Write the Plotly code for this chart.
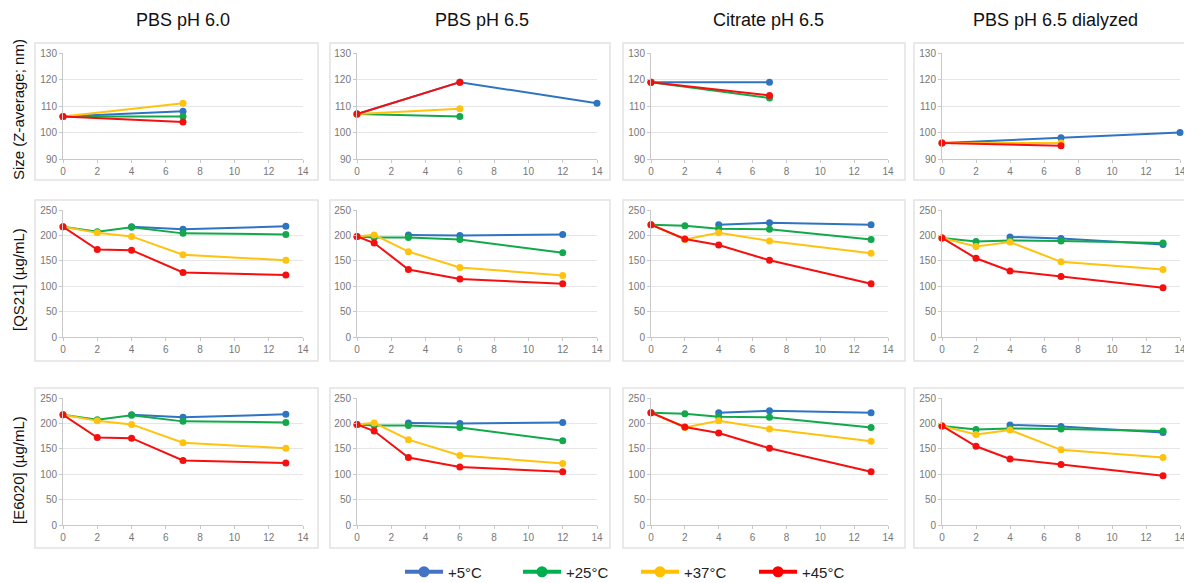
import plotly.graph_objects as go

# ---------------- data ----------------
temps = ["+5°C", "+25°C", "+37°C", "+45°C"]
colors = ["#2f74c0", "#13a84c", "#ffc20e", "#f50f0f"]
legend_colors = ["#4472c4", "#00b050", "#ffc000", "#ff0000"]
conditions = ["PBS pH 6.0", "PBS pH 6.5", "Citrate pH 6.5", "PBS pH 6.5 dialyzed"]
row_titles = ["Size (Z-average; nm)", "[QS21] (µg/mL)", "[E6020] (µg/mL)"]

# Row 1: size (nm)
size_pbs60_days = [0, 7]
size_pbs60 = {"+5°C": [106, 108], "+25°C": [106, 106], "+37°C": [106, 111], "+45°C": [106, 104]}
size_pbs65_days = [0, 6, 14]
size_pbs65 = {"+5°C": [107, 119, 111], "+25°C": [107, 106, None], "+37°C": [107, 109, None], "+45°C": [107, 119, None]}
size_cit65_days = [0, 7]
size_cit65 = {"+5°C": [119, 119], "+25°C": [119, 113], "+37°C": [None, None], "+45°C": [119, 114]}
size_dia65_days = [0, 7, 14]
size_dia65 = {"+5°C": [96, 98, 100], "+25°C": [None, None, None], "+37°C": [96, 96, None], "+45°C": [96, 95, None]}

# Row 2: [QS21] (µg/mL)
qs21_pbs60_days = [0, 2, 4, 7, 13]
qs21_pbs60 = {"+5°C": [None, None, 217, 212, 218], "+25°C": [217, 207, 216, 204, 202],
              "+37°C": [217, 205, 198, 162, 151], "+45°C": [217, 172, 171, 127, 122]}
qs21_pbs65_days = [0, 1, 3, 6, 12]
qs21_pbs65 = {"+5°C": [None, None, 201, 200, 202], "+25°C": [198, 196, 196, 192, 166],
              "+37°C": [198, 201, 168, 137, 121], "+45°C": [198, 185, 133, 114, 105]}
qs21_cit65_days = [0, 2, 4, 7, 13]
qs21_cit65 = {"+5°C": [None, None, 221, 225, 221], "+25°C": [221, 219, 213, 212, 192],
              "+37°C": [221, 192, 205, 189, 165], "+45°C": [221, 193, 181, 151, 105]}
qs21_dia65_days = [0, 2, 4, 7, 13]
qs21_dia65 = {"+5°C": [None, None, 197, 194, 182], "+25°C": [195, 188, 190, 189, 185],
              "+37°C": [195, 178, 187, 148, 133], "+45°C": [195, 155, 130, 119, 97]}

# Row 3: [E6020] (µg/mL)
e6020_pbs60_days = [0, 2, 4, 7, 13]
e6020_pbs60 = {"+5°C": [None, None, 217, 212, 218], "+25°C": [217, 207, 216, 204, 202],
               "+37°C": [217, 205, 198, 162, 151], "+45°C": [217, 172, 171, 127, 122]}
e6020_pbs65_days = [0, 1, 3, 6, 12]
e6020_pbs65 = {"+5°C": [None, None, 201, 200, 202], "+25°C": [198, 196, 196, 192, 166],
               "+37°C": [198, 201, 168, 137, 121], "+45°C": [198, 185, 133, 114, 105]}
e6020_cit65_days = [0, 2, 4, 7, 13]
e6020_cit65 = {"+5°C": [None, None, 221, 225, 221], "+25°C": [221, 219, 213, 212, 192],
               "+37°C": [221, 192, 205, 189, 165], "+45°C": [221, 193, 181, 151, 105]}
e6020_dia65_days = [0, 2, 4, 7, 13]
e6020_dia65 = {"+5°C": [None, None, 197, 194, 182], "+25°C": [195, 188, 190, 189, 185],
               "+37°C": [195, 178, 187, 148, 133], "+45°C": [195, 155, 130, 119, 97]}

panels = [
    [(size_pbs60_days, size_pbs60), (size_pbs65_days, size_pbs65), (size_cit65_days, size_cit65), (size_dia65_days, size_dia65)],
    [(qs21_pbs60_days, qs21_pbs60), (qs21_pbs65_days, qs21_pbs65), (qs21_cit65_days, qs21_cit65), (qs21_dia65_days, qs21_dia65)],
    [(e6020_pbs60_days, e6020_pbs60), (e6020_pbs65_days, e6020_pbs65), (e6020_cit65_days, e6020_cit65), (e6020_dia65_days, e6020_dia65)],
]
y_ranges = [(90, 130, 10), (0, 250, 50), (0, 250, 50)]

# ---------------- layout geometry (page pixels) ----------------
OFF = 8                      # default page body margin
W, H = 1192 - OFF, 583 - OFF  # figure size so that it fits the window


def px(xp):
    return (xp - OFF) / W


def py(yp):
    return 1 - (yp - OFF) / H


col_px = [(63, 303), (357, 597), (651, 888), (942, 1180)]
row_px = [(53, 159), (210, 337), (398, 525)]
box_col = [(35, 318), (330, 610), (623, 905), (914, 1190)]
box_row = [(43, 180), (200, 361), (388, 548)]

fig = go.Figure()
layout = dict(
    width=W, height=H,
    margin=dict(l=0, r=0, t=0, b=0, autoexpand=False),
    paper_bgcolor="white", plot_bgcolor="white",
    font=dict(family="Liberation Sans, Arial, sans-serif", color="#222"),
    showlegend=True,
    legend=dict(orientation="h", x=px(636), xanchor="center", y=py(572), yanchor="middle",
                font=dict(size=15, color="#222"), itemwidth=38, traceorder="normal",
                entrywidth=65, entrywidthmode="pixels",
                bgcolor="rgba(0,0,0,0)"),
)
shapes = []
annotations = []

idx = 0
for r in range(3):
    lo, hi, dt = y_ranges[r]
    for c in range(4):
        idx += 1
        xname = "xaxis" if idx == 1 else f"xaxis{idx}"
        yname = "yaxis" if idx == 1 else f"yaxis{idx}"
        xa = "x" if idx == 1 else f"x{idx}"
        ya = "y" if idx == 1 else f"y{idx}"
        x0, x1 = col_px[c]
        y0, y1 = row_px[r]
        layout[xname] = dict(
            domain=[px(x0), px(x1)], anchor=ya, range=[0, 14], tick0=0, dtick=2,
            showgrid=False, zeroline=False, showline=True, linecolor="#c8c8c8", linewidth=1,
            ticks="outside", ticklen=3, tickcolor="#c8c8c8",
            tickfont=dict(size=10, color="#777"), fixedrange=True,
        )
        layout[yname] = dict(
            domain=[py(y1), py(y0)], anchor=xa, range=[lo, hi], tick0=lo, dtick=dt,
            showgrid=True, gridcolor="#e6e6e6", gridwidth=1, zeroline=False,
            showline=True, linecolor="#c8c8c8", linewidth=1,
            ticks="outside", ticklen=3, tickcolor="#c8c8c8",
            tickfont=dict(size=10, color="#777"), fixedrange=True,
        )
        bx0, bx1 = box_col[c]
        by0, by1 = box_row[r]
        shapes.append(dict(type="rect", xref="paper", yref="paper",
                           x0=px(bx0), x1=px(bx1), y0=py(by1), y1=py(by0),
                           line=dict(color="#e2e2e2", width=1.5), fillcolor="rgba(0,0,0,0)",
                           layer="below"))
        days, series = panels[r][c]
        for t, temp in enumerate(temps):
            vals = series[temp]
            fig.add_trace(go.Scatter(
                x=days, y=vals, xaxis=xa, yaxis=ya, mode="lines+markers",
                name=temp, legendgroup=temp, showlegend=False,
                line=dict(color=colors[t], width=2),
                marker=dict(color=colors[t], size=7),
                cliponaxis=False, hoverinfo="x+y+name",
            ))

# legend entries (bolder symbols, as in the reference legend)
for t, temp in enumerate(temps):
    fig.add_trace(go.Scatter(
        x=[None], y=[None], mode="lines+markers", name=temp, legendgroup=temp,
        showlegend=True, line=dict(color=legend_colors[t], width=4),
        marker=dict(color=legend_colors[t], size=11),
    ))

# column titles
title_x = [183, 482, 768, 1055]
for c, name in enumerate(conditions):
    annotations.append(dict(text=name, x=px(title_x[c]), y=py(20), xref="paper", yref="paper",
                            showarrow=False, xanchor="center", yanchor="middle",
                            font=dict(size=18, color="#111")))
# row titles
row_title_y = [110, 280, 470]
for r, name in enumerate(row_titles):
    annotations.append(dict(text=name, x=px(18), y=py(row_title_y[r]), xref="paper", yref="paper",
                            showarrow=False, textangle=-90, xanchor="center", yanchor="middle",
                            font=dict(size=15, color="#111")))

layout["shapes"] = shapes
layout["annotations"] = annotations
fig.update_layout(**layout)
fig.write_html("out.html")
